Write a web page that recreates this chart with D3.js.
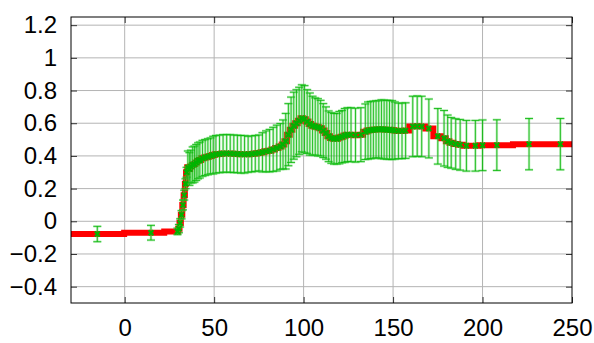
<!DOCTYPE html>
<meta charset="utf-8">
<html>
<head>
<script src="https://d3js.org/d3.v7.min.js"></script>
<style>
  body { margin: 0; background: #fff; }
  text { font-family: "Liberation Sans", Arial, sans-serif; }
</style>
</head>
<body>
<div id="my_dataviz"></div>
<script>

// measured points: x position, mean value, half width of the error bar
var xs = [-15.3, 14.7, 29.5, 30.3, 31.0, 31.8, 32.6, 33.3, 34.0, 34.6,
  35.3, 36.2, 37.0, 38.0, 39.0, 40.0, 41.0, 42.0, 43.5, 45.0,
  46.5, 48.0, 49.5, 51.0, 53.0, 55.0, 57.0, 59.0, 61.0, 63.0,
  65.0, 67.0, 69.0, 71.0, 73.0, 75.0, 77.0, 79.0, 81.0, 83.0,
  85.0, 87.0, 88.5, 90.0, 91.5, 93.0, 94.5, 96.0, 97.5, 99.0,
  100.5, 102.0, 103.5, 105.0, 106.5, 108.0, 109.5, 111.0, 112.5, 114.0,
  115.5, 117.0, 118.5, 120.0, 121.5, 123.0, 124.5, 126.5, 129.0, 132.0,
  134.5, 136.0, 137.5, 139.0, 140.5, 142.0, 143.5, 145.0, 146.5, 148.0,
  149.5, 151.0, 153.0, 155.0, 157.0, 161.0, 163.5, 166.0, 170.0, 175.0,
  178.5, 180.5, 182.5, 185.0, 187.5, 191.0, 196.0, 200.0, 208.0, 226.0,
  243.5];
var ys = [-0.078, -0.070, -0.062, -0.045, -0.010, 0.040, 0.100, 0.160, 0.230, 0.300,
  0.330, 0.320, 0.335, 0.345, 0.350, 0.360, 0.370, 0.375, 0.385, 0.390,
  0.395, 0.400, 0.405, 0.410, 0.412, 0.415, 0.415, 0.415, 0.413, 0.412,
  0.410, 0.410, 0.410, 0.412, 0.415, 0.418, 0.422, 0.428, 0.432, 0.440,
  0.448, 0.458, 0.470, 0.490, 0.530, 0.560, 0.585, 0.600, 0.615, 0.630,
  0.625, 0.610, 0.595, 0.585, 0.580, 0.575, 0.570, 0.555, 0.540, 0.520,
  0.510, 0.505, 0.505, 0.512, 0.518, 0.525, 0.530, 0.530, 0.527, 0.530,
  0.548, 0.555, 0.558, 0.560, 0.562, 0.563, 0.563, 0.562, 0.560, 0.560,
  0.558, 0.555, 0.553, 0.553, 0.555, 0.580, 0.582, 0.580, 0.568, 0.520,
  0.508, 0.490, 0.480, 0.473, 0.468, 0.462, 0.462, 0.465, 0.466, 0.472,
  0.472];
var errs = [0.047, 0.045, 0.020, 0.025, 0.025, 0.025, 0.030, 0.030, 0.030, 0.030,
  0.100, 0.100, 0.100, 0.110, 0.110, 0.110, 0.110, 0.110, 0.110, 0.110,
  0.110, 0.110, 0.115, 0.115, 0.115, 0.115, 0.115, 0.115, 0.115, 0.115,
  0.115, 0.115, 0.110, 0.110, 0.110, 0.110, 0.120, 0.125, 0.130, 0.135,
  0.140, 0.140, 0.150, 0.170, 0.190, 0.200, 0.205, 0.205, 0.205, 0.205,
  0.205, 0.195, 0.190, 0.180, 0.175, 0.175, 0.170, 0.165, 0.160, 0.155,
  0.155, 0.155, 0.155, 0.160, 0.160, 0.165, 0.165, 0.165, 0.165, 0.165,
  0.170, 0.175, 0.175, 0.175, 0.175, 0.175, 0.180, 0.180, 0.180, 0.180,
  0.180, 0.175, 0.170, 0.170, 0.170, 0.185, 0.185, 0.185, 0.180, 0.170,
  0.170, 0.160, 0.155, 0.155, 0.155, 0.155, 0.155, 0.155, 0.155, 0.157,
  0.157];

var xTicks = [0, 50, 100, 150, 200, 250];
var yTicks = [-0.4, -0.2, 0, 0.2, 0.4, 0.6, 0.8, 1, 1.2];

var data = xs.map(function(x, i) { return {x: x, y: ys[i], e: errs[i]}; });

var margin = {top: 17, right: 22, bottom: 40, left: 71},
    width = 594 - margin.left - margin.right,
    height = 343 - margin.top - margin.bottom;

var svg = d3.select("#my_dataviz")
  .append("svg")
    .attr("width", 594)
    .attr("height", 343)
  .append("g")
    .attr("transform", "translate(" + margin.left + "," + margin.top + ")");

var x = d3.scaleLinear().domain([-30, 250]).range([0, width]);
var y = d3.scaleLinear().domain([-0.5, 1.25]).range([height, 0]);

// grid
svg.append("g").selectAll("line").data(xTicks.slice(0, -1)).enter().append("line")
  .attr("x1", function(d) { return x(d); }).attr("x2", function(d) { return x(d); })
  .attr("y1", 0).attr("y2", height)
  .attr("stroke", "#b4b4b4").attr("stroke-width", 1);
svg.append("g").selectAll("line").data(yTicks).enter().append("line")
  .attr("x1", 0).attr("x2", width)
  .attr("y1", function(d) { return y(d); }).attr("y2", function(d) { return y(d); })
  .attr("stroke", "#b4b4b4").attr("stroke-width", 1);

// axes with inward ticks on all sides
function styleAxis(g) {
  g.select(".domain").remove();
  g.selectAll(".tick line").attr("stroke", "#333");
  g.selectAll(".tick text").attr("font-size", 24).attr("fill", "#000");
}
svg.append("g").attr("transform", "translate(0," + height + ")")
  .call(d3.axisBottom(x).tickValues(xTicks).tickSizeInner(-6).tickSizeOuter(0).tickPadding(16))
  .call(styleAxis);
svg.append("g")
  .call(d3.axisTop(x).tickValues(xTicks).tickSizeInner(-6).tickSizeOuter(0).tickFormat(""))
  .call(styleAxis);
svg.append("g")
  .call(d3.axisLeft(y).tickValues(yTicks).tickSizeInner(-6).tickSizeOuter(0).tickPadding(14)
    .tickFormat(d3.format("")))
  .call(styleAxis);
svg.append("g").attr("transform", "translate(" + width + ",0)")
  .call(d3.axisRight(y).tickValues(yTicks).tickSizeInner(-6).tickSizeOuter(0).tickFormat(""))
  .call(styleAxis);

// clip
svg.append("clipPath").attr("id", "clip").append("rect")
  .attr("width", width).attr("height", height);
var plot = svg.append("g").attr("clip-path", "url(#clip)");

// red stepped line, carried out to the plot edges
var lineData = [{x: x.domain()[0], y: ys[0]}].concat(data)
  .concat([{x: x.domain()[1], y: ys[ys.length - 1]}]);
plot.append("path")
  .datum(lineData)
  .attr("fill", "none")
  .attr("stroke", "#ff0000")
  .attr("stroke-width", 6)
  .attr("d", d3.line().curve(d3.curveStep)
    .x(function(d) { return x(d.x); })
    .y(function(d) { return y(d.y); }));

// error bars
var bars = plot.append("g").selectAll("g").data(data).enter().append("g");
function drawBar(sel, color, w) {
  sel.append("line")
    .attr("x1", function(d) { return x(d.x); }).attr("x2", function(d) { return x(d.x); })
    .attr("y1", function(d) { return y(d.y - d.e); }).attr("y2", function(d) { return y(d.y + d.e); })
    .attr("stroke", color).attr("stroke-width", w);
  [-1, 1].forEach(function(s) {
    sel.append("line")
      .attr("x1", function(d) { return x(d.x) - 4; }).attr("x2", function(d) { return x(d.x) + 4; })
      .attr("y1", function(d) { return y(d.y + s * d.e); }).attr("y2", function(d) { return y(d.y + s * d.e); })
      .attr("stroke", color).attr("stroke-width", w);
  });
}
drawBar(bars, "rgba(90,215,90,0.4)", 2.5);
drawBar(bars, "#00b400", 0.8);

// cross markers
plot.append("g").selectAll("path").data(data).enter().append("path")
  .attr("d", function(d) {
    var cx = x(d.x), cy = y(d.y), r = 2.5;
    return "M" + (cx - r) + "," + (cy - r) + "L" + (cx + r) + "," + (cy + r) +
      "M" + (cx - r) + "," + (cy + r) + "L" + (cx + r) + "," + (cy - r);
  })
  .attr("stroke", "#00b400").attr("stroke-width", 2).attr("fill", "none");

// frame
svg.append("rect").attr("width", width).attr("height", height)
  .attr("fill", "none").attr("stroke", "#000").attr("stroke-width", 1);

</script>
</body>
</html>
